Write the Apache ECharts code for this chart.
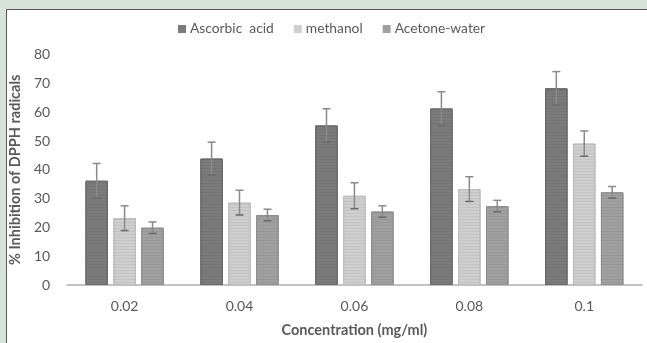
<!DOCTYPE html>
<html>
<head>
<meta charset="utf-8">
<script src="https://cdn.jsdelivr.net/npm/echarts@6/dist/echarts.min.js"></script>
<style>
  html, body { margin: 0; padding: 0; background: #d6e4da; overflow: hidden; }
  #wrap { position: relative; width: 647px; height: 343px; }
  #panel {
    position: absolute; left: 6px; top: 9px; right: -10px; bottom: -10px;
    background: #ffffff; border-left: 1.5px solid #5a5a5a; border-top: 1.5px solid #5a5a5a;
  }
  #chart { position: absolute; left: 0; top: 0; width: 647px; height: 343px; }
</style>
</head>
<body>
<div id="wrap">
  <div id="panel"></div>
  <div id="chart"></div>
</div>
<script>
// Concentrations on the x axis
const categories = ['0.02', '0.04', '0.06', '0.08', '0.1'];

// % inhibition of DPPH radicals (mean) and error (±)
const ascorbicAcid = [36.2, 43.9, 55.4, 61.3, 68.3];
const ascorbicAcidErr = [6.0, 5.7, 5.8, 5.8, 5.8];
const methanol = [23.2, 28.6, 31.0, 33.3, 49.1];
const methanolErr = [4.3, 4.3, 4.5, 4.3, 4.4];
const acetoneWater = [19.9, 24.3, 25.5, 27.4, 32.2];
const acetoneWaterErr = [2.0, 2.0, 2.0, 2.0, 2.0];

const yTicks = [0, 10, 20, 30, 40, 50, 60, 70, 80];

const FONT = 'Lato, "Open Sans", sans-serif';
const BAR_W = 0.196;   // bar width as a share of the category band
const BAR_GAP = 0.24;  // gap between bars as a share of bar width

const seriesDefs = [
  { name: 'Ascorbic  acid', values: ascorbicAcid, err: ascorbicAcidErr, color: '#7b7b7b', border: '#696969' },
  { name: 'methanol', values: methanol, err: methanolErr, color: '#cfcfcf', border: '#bdbdbd' },
  { name: 'Acetone-water', values: acetoneWater, err: acetoneWaterErr, color: '#a0a0a0', border: '#8f8f8f' }
];

// faint horizontal banding inside the bars
const stripes = {
  symbol: 'rect',
  color: 'rgba(0,0,0,0.06)',
  dashArrayX: [1, 0],
  dashArrayY: [1, 2],
  rotation: 0
};

const barSeries = seriesDefs.map(s => ({
  name: s.name,
  type: 'bar',
  data: s.values,
  barWidth: (BAR_W * 100) + '%',
  barGap: (BAR_GAP * 100) + '%',
  itemStyle: { color: s.color, borderColor: s.border, borderWidth: 1, decal: stripes },
  emphasis: { disabled: true }
}));

const errorSeries = seriesDefs.map((s, idx) => ({
  type: 'custom',
  name: s.name + ' error',
  data: s.values.map((v, i) => [i, v - s.err[i], v + s.err[i]]),
  z: 5,
  silent: true,
  renderItem: function (params, api) {
    const band = api.size([1, 0])[0];
    const bw = band * BAR_W;
    const offset = (idx - 1) * bw * (1 + BAR_GAP);
    const lo = api.coord([api.value(0), api.value(1)]);
    const hi = api.coord([api.value(0), api.value(2)]);
    const x = lo[0] + offset;
    const cap = 4;
    const style = { stroke: '#8a8a8a', lineWidth: 1.5 };
    return {
      type: 'group',
      children: [
        { type: 'line', shape: { x1: x, y1: lo[1], x2: x, y2: hi[1] }, style: style },
        { type: 'line', shape: { x1: x - cap, y1: hi[1], x2: x + cap, y2: hi[1] }, style: style },
        { type: 'line', shape: { x1: x - cap, y1: lo[1], x2: x + cap, y2: lo[1] }, style: { stroke: '#6a6a6a', lineWidth: 1.5 } }
      ]
    };
  }
}));

const chart = echarts.init(document.getElementById('chart'), null, { renderer: 'canvas' });
chart.setOption({
  backgroundColor: 'transparent',
  aria: { enabled: false, decal: { show: false } },
  animation: false,
  legend: {
    top: 17,
    left: 173,
    itemWidth: 8,
    itemHeight: 8,
    itemGap: 20,
    icon: 'rect',
    textStyle: { fontFamily: FONT, fontSize: 13.8, color: '#595959', padding: [0, 0, 0, -1] },
    data: seriesDefs.map(s => ({ name: s.name, itemStyle: { color: s.color, borderWidth: 0, decal: 'none' } }))
  },
  grid: { left: 66.7, right: 5.3, top: 54.6, bottom: 58 },
  xAxis: {
    type: 'category',
    data: categories,
    name: 'Concentration (mg/ml)',
    nameLocation: 'middle',
    nameGap: 38,
    nameTextStyle: { fontFamily: FONT, fontSize: 14.5, fontWeight: 'bold', color: '#595959' },
    axisLine: { lineStyle: { color: '#c2c2c2', width: 2 } },
    axisTick: { show: false },
    axisLabel: { fontFamily: FONT, fontSize: 14, color: '#595959', margin: 14 }
  },
  yAxis: {
    type: 'value',
    min: yTicks[0],
    max: yTicks[yTicks.length - 1],
    interval: 10,
    name: '% Inhibition of DPPH radicals',
    nameLocation: 'middle',
    nameGap: 38,
    nameTextStyle: { fontFamily: FONT, fontSize: 14.5, fontWeight: 'bold', color: '#595959' },
    axisLine: { show: false },
    axisTick: { show: false },
    splitLine: { show: false },
    axisLabel: { fontFamily: FONT, fontSize: 14, color: '#595959', margin: 17 }
  },
  series: barSeries.concat(errorSeries)
});
</script>
</body>
</html>
